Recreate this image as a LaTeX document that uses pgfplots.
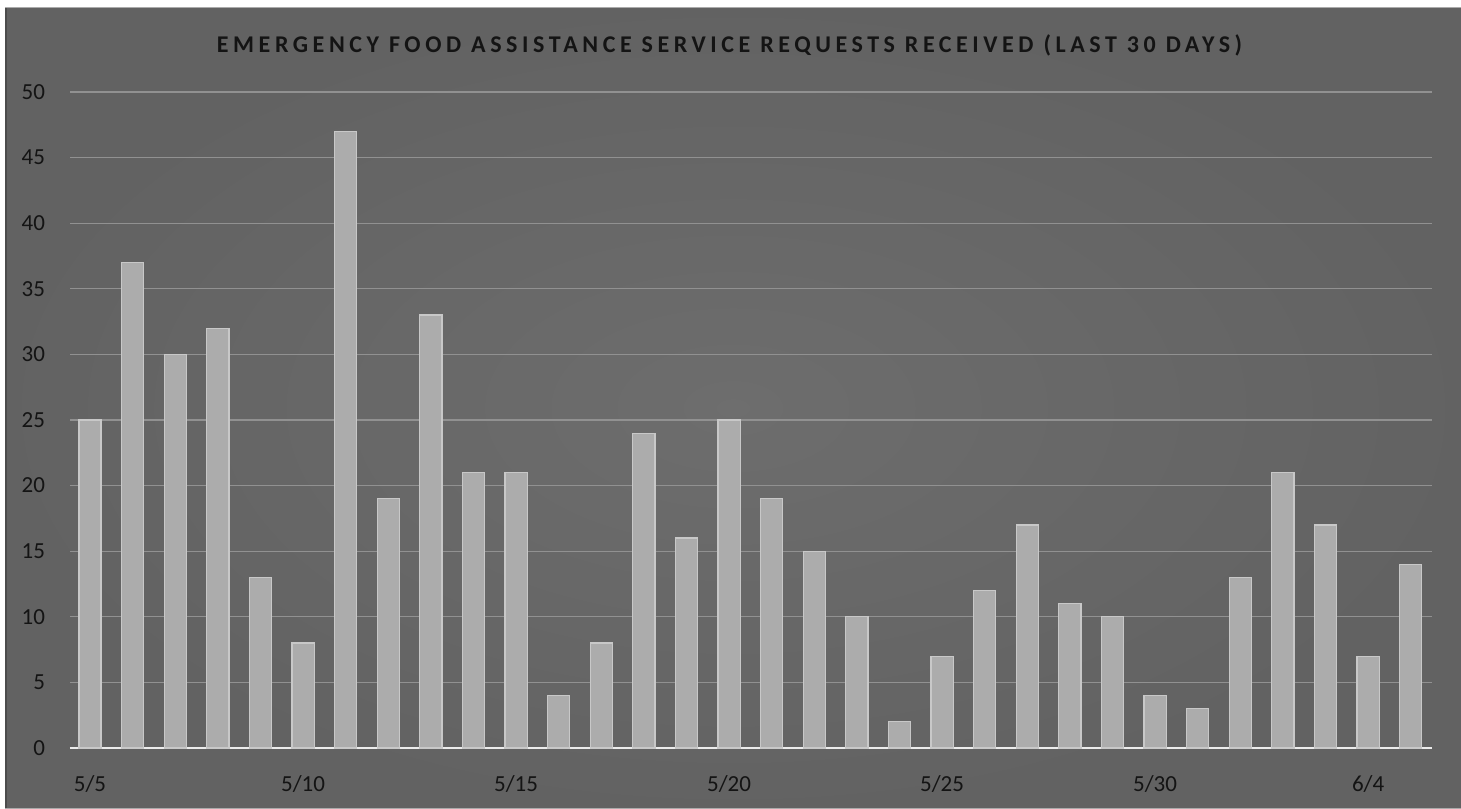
\documentclass[border=0pt]{standalone}
\usepackage{pgfplots}
\pgfplotsset{compat=1.18}
\usepackage{fontspec}
\setmainfont{Carlito}
\newfontfamily\titlefont[LetterSpace=19]{Carlito}
\definecolor{bgc}{RGB}{110,110,110}
\definecolor{barc}{RGB}{172,172,172}
\definecolor{baredge}{RGB}{200,200,200}
\definecolor{gridc}{RGB}{145,145,145}
\definecolor{txt}{RGB}{20,20,20}
\begin{document}
\begin{tikzpicture}
\fill[white] (0pt,0pt) rectangle (730.5pt,404pt);
\fill[bgc] (2.5pt,0pt) rectangle (730.5pt,400pt);
\shade[inner color=bgc, outer color=bgc!80!black, opacity=0.5] (2.5pt,0pt) rectangle (730.5pt,400pt);
\draw[black!70, line width=0.8pt] (2.9pt,0pt) -- (2.9pt,400pt);
\node[font=\titlefont\bfseries\fontsize{12}{14}\selectfont, text=txt] at (364.75pt,381.5pt) {EMERGENCY FOOD ASSISTANCE SERVICE REQUESTS RECEIVED (LAST 30 DAYS)};
\begin{axis}[
  at={(35pt,30pt)}, anchor=south west,
  scale only axis, width=681pt, height=328pt,
  xmin=-0.47, xmax=31.5, ymin=0, ymax=50,
  ybar, bar width=0.52, bar shift=0pt,
  xtick={0,5,10,15,20,25,30},
  xticklabels={5/5,5/10,5/15,5/20,5/25,5/30,6/4},
  ytick={0,5,...,50},
  ymajorgrids, grid style={gridc, line width=0.6pt},
  axis x line*=bottom, axis y line*=left,
  y axis line style={draw=none},
  x axis line style={color=white!85!gray, line width=1.3pt, -},
  tick style={draw=none},
  tick label style={font=\fontsize{11.5}{13}\selectfont, color=txt},
  /pgf/number format/assume math mode=true,
  yticklabel style={xshift=-9pt},
  xticklabel style={yshift=-6pt},
]
\addplot[fill=barc, draw=baredge, line width=0.6pt] coordinates {
(0,25)(1,37)(2,30)(3,32)(4,13)(5,8)(6,47)(7,19)(8,33)(9,21)(10,21)(11,4)(12,8)(13,24)(14,16)(15,25)(16,19)(17,15)(18,10)(19,2)(20,7)(21,12)(22,17)(23,11)(24,10)(25,4)(26,3)(27,13)(28,21)(29,17)(30,7)(31,14)
};
\end{axis}
\end{tikzpicture}
\end{document}
